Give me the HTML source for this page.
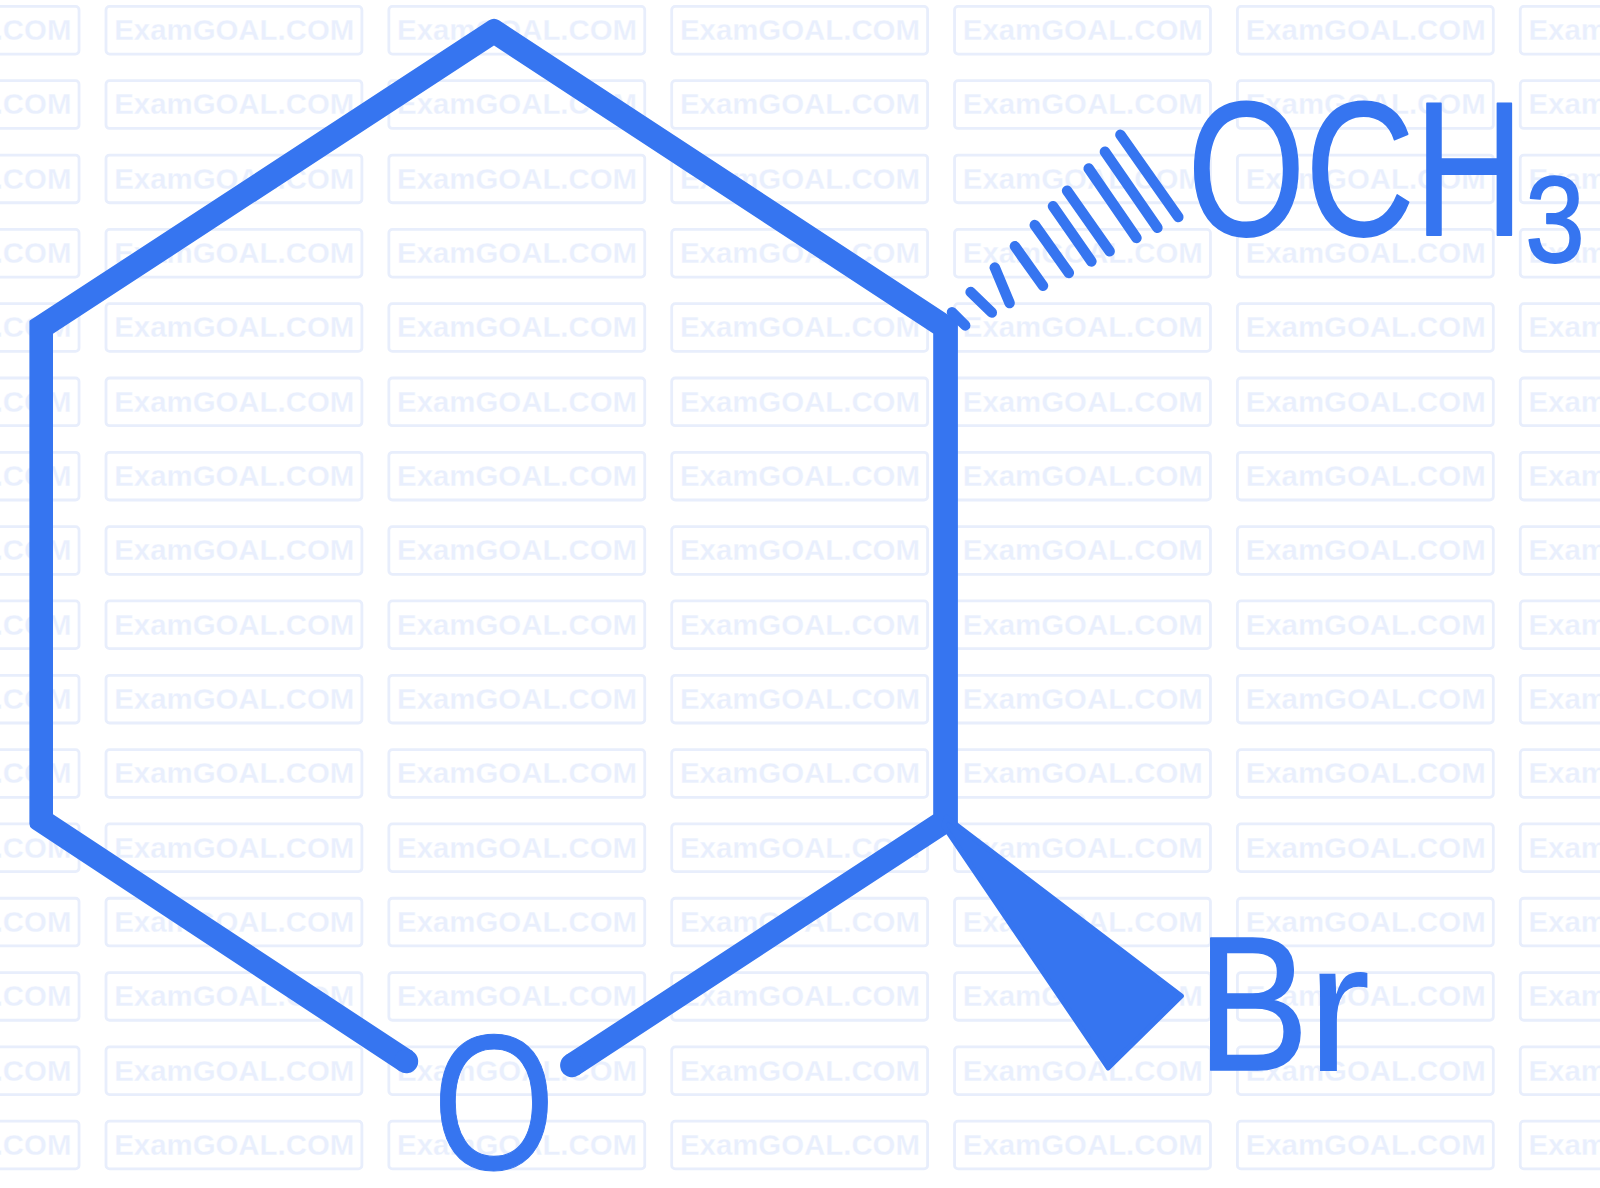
<!DOCTYPE html>
<html lang="en"><head><meta charset="utf-8"><title>Structure</title>
<style>
html,body{margin:0;padding:0;background:#fff;}
body{width:1600px;height:1188px;overflow:hidden;}
svg{display:block;}
.wm rect{fill:none;stroke:#e8eefc;stroke-width:2.8;}
.wm text{fill:#e9effd;font-family:"Liberation Sans",sans-serif;font-weight:700;font-size:30px;stroke:#fff;stroke-width:0.3px;}
.lbl text{fill:#3675f0;font-family:"Liberation Sans",sans-serif;font-weight:400;}
.lbl .k{stroke:#3675f0;stroke-width:1;vector-effect:non-scaling-stroke;stroke-linejoin:round;}
.lbl .k2{stroke-width:1.6;}
.b{stroke:#3675f0;stroke-linecap:round;fill:none;}
</style></head><body>
<svg xmlns="http://www.w3.org/2000/svg" width="1600" height="1188" viewBox="0 0 1600 1188">
<rect width="1600" height="1188" fill="#fff"/>
<g class="wm">
<rect x="-176.85" y="6.40" width="255.90" height="47.70" rx="3.5"/><text x="-168.60" y="40.10" textLength="240.0" lengthAdjust="spacingAndGlyphs">ExamGOAL.COM</text>
<rect x="106.00" y="6.40" width="255.90" height="47.70" rx="3.5"/><text x="114.25" y="40.10" textLength="240.0" lengthAdjust="spacingAndGlyphs">ExamGOAL.COM</text>
<rect x="388.85" y="6.40" width="255.90" height="47.70" rx="3.5"/><text x="397.10" y="40.10" textLength="240.0" lengthAdjust="spacingAndGlyphs">ExamGOAL.COM</text>
<rect x="671.70" y="6.40" width="255.90" height="47.70" rx="3.5"/><text x="679.95" y="40.10" textLength="240.0" lengthAdjust="spacingAndGlyphs">ExamGOAL.COM</text>
<rect x="954.55" y="6.40" width="255.90" height="47.70" rx="3.5"/><text x="962.80" y="40.10" textLength="240.0" lengthAdjust="spacingAndGlyphs">ExamGOAL.COM</text>
<rect x="1237.40" y="6.40" width="255.90" height="47.70" rx="3.5"/><text x="1245.65" y="40.10" textLength="240.0" lengthAdjust="spacingAndGlyphs">ExamGOAL.COM</text>
<rect x="1520.25" y="6.40" width="255.90" height="47.70" rx="3.5"/><text x="1528.50" y="40.10" textLength="240.0" lengthAdjust="spacingAndGlyphs">ExamGOAL.COM</text>
<rect x="-176.85" y="80.72" width="255.90" height="47.70" rx="3.5"/><text x="-168.60" y="114.42" textLength="240.0" lengthAdjust="spacingAndGlyphs">ExamGOAL.COM</text>
<rect x="106.00" y="80.72" width="255.90" height="47.70" rx="3.5"/><text x="114.25" y="114.42" textLength="240.0" lengthAdjust="spacingAndGlyphs">ExamGOAL.COM</text>
<rect x="388.85" y="80.72" width="255.90" height="47.70" rx="3.5"/><text x="397.10" y="114.42" textLength="240.0" lengthAdjust="spacingAndGlyphs">ExamGOAL.COM</text>
<rect x="671.70" y="80.72" width="255.90" height="47.70" rx="3.5"/><text x="679.95" y="114.42" textLength="240.0" lengthAdjust="spacingAndGlyphs">ExamGOAL.COM</text>
<rect x="954.55" y="80.72" width="255.90" height="47.70" rx="3.5"/><text x="962.80" y="114.42" textLength="240.0" lengthAdjust="spacingAndGlyphs">ExamGOAL.COM</text>
<rect x="1237.40" y="80.72" width="255.90" height="47.70" rx="3.5"/><text x="1245.65" y="114.42" textLength="240.0" lengthAdjust="spacingAndGlyphs">ExamGOAL.COM</text>
<rect x="1520.25" y="80.72" width="255.90" height="47.70" rx="3.5"/><text x="1528.50" y="114.42" textLength="240.0" lengthAdjust="spacingAndGlyphs">ExamGOAL.COM</text>
<rect x="-176.85" y="155.04" width="255.90" height="47.70" rx="3.5"/><text x="-168.60" y="188.74" textLength="240.0" lengthAdjust="spacingAndGlyphs">ExamGOAL.COM</text>
<rect x="106.00" y="155.04" width="255.90" height="47.70" rx="3.5"/><text x="114.25" y="188.74" textLength="240.0" lengthAdjust="spacingAndGlyphs">ExamGOAL.COM</text>
<rect x="388.85" y="155.04" width="255.90" height="47.70" rx="3.5"/><text x="397.10" y="188.74" textLength="240.0" lengthAdjust="spacingAndGlyphs">ExamGOAL.COM</text>
<rect x="671.70" y="155.04" width="255.90" height="47.70" rx="3.5"/><text x="679.95" y="188.74" textLength="240.0" lengthAdjust="spacingAndGlyphs">ExamGOAL.COM</text>
<rect x="954.55" y="155.04" width="255.90" height="47.70" rx="3.5"/><text x="962.80" y="188.74" textLength="240.0" lengthAdjust="spacingAndGlyphs">ExamGOAL.COM</text>
<rect x="1237.40" y="155.04" width="255.90" height="47.70" rx="3.5"/><text x="1245.65" y="188.74" textLength="240.0" lengthAdjust="spacingAndGlyphs">ExamGOAL.COM</text>
<rect x="1520.25" y="155.04" width="255.90" height="47.70" rx="3.5"/><text x="1528.50" y="188.74" textLength="240.0" lengthAdjust="spacingAndGlyphs">ExamGOAL.COM</text>
<rect x="-176.85" y="229.36" width="255.90" height="47.70" rx="3.5"/><text x="-168.60" y="263.06" textLength="240.0" lengthAdjust="spacingAndGlyphs">ExamGOAL.COM</text>
<rect x="106.00" y="229.36" width="255.90" height="47.70" rx="3.5"/><text x="114.25" y="263.06" textLength="240.0" lengthAdjust="spacingAndGlyphs">ExamGOAL.COM</text>
<rect x="388.85" y="229.36" width="255.90" height="47.70" rx="3.5"/><text x="397.10" y="263.06" textLength="240.0" lengthAdjust="spacingAndGlyphs">ExamGOAL.COM</text>
<rect x="671.70" y="229.36" width="255.90" height="47.70" rx="3.5"/><text x="679.95" y="263.06" textLength="240.0" lengthAdjust="spacingAndGlyphs">ExamGOAL.COM</text>
<rect x="954.55" y="229.36" width="255.90" height="47.70" rx="3.5"/><text x="962.80" y="263.06" textLength="240.0" lengthAdjust="spacingAndGlyphs">ExamGOAL.COM</text>
<rect x="1237.40" y="229.36" width="255.90" height="47.70" rx="3.5"/><text x="1245.65" y="263.06" textLength="240.0" lengthAdjust="spacingAndGlyphs">ExamGOAL.COM</text>
<rect x="1520.25" y="229.36" width="255.90" height="47.70" rx="3.5"/><text x="1528.50" y="263.06" textLength="240.0" lengthAdjust="spacingAndGlyphs">ExamGOAL.COM</text>
<rect x="-176.85" y="303.68" width="255.90" height="47.70" rx="3.5"/><text x="-168.60" y="337.38" textLength="240.0" lengthAdjust="spacingAndGlyphs">ExamGOAL.COM</text>
<rect x="106.00" y="303.68" width="255.90" height="47.70" rx="3.5"/><text x="114.25" y="337.38" textLength="240.0" lengthAdjust="spacingAndGlyphs">ExamGOAL.COM</text>
<rect x="388.85" y="303.68" width="255.90" height="47.70" rx="3.5"/><text x="397.10" y="337.38" textLength="240.0" lengthAdjust="spacingAndGlyphs">ExamGOAL.COM</text>
<rect x="671.70" y="303.68" width="255.90" height="47.70" rx="3.5"/><text x="679.95" y="337.38" textLength="240.0" lengthAdjust="spacingAndGlyphs">ExamGOAL.COM</text>
<rect x="954.55" y="303.68" width="255.90" height="47.70" rx="3.5"/><text x="962.80" y="337.38" textLength="240.0" lengthAdjust="spacingAndGlyphs">ExamGOAL.COM</text>
<rect x="1237.40" y="303.68" width="255.90" height="47.70" rx="3.5"/><text x="1245.65" y="337.38" textLength="240.0" lengthAdjust="spacingAndGlyphs">ExamGOAL.COM</text>
<rect x="1520.25" y="303.68" width="255.90" height="47.70" rx="3.5"/><text x="1528.50" y="337.38" textLength="240.0" lengthAdjust="spacingAndGlyphs">ExamGOAL.COM</text>
<rect x="-176.85" y="378.00" width="255.90" height="47.70" rx="3.5"/><text x="-168.60" y="411.70" textLength="240.0" lengthAdjust="spacingAndGlyphs">ExamGOAL.COM</text>
<rect x="106.00" y="378.00" width="255.90" height="47.70" rx="3.5"/><text x="114.25" y="411.70" textLength="240.0" lengthAdjust="spacingAndGlyphs">ExamGOAL.COM</text>
<rect x="388.85" y="378.00" width="255.90" height="47.70" rx="3.5"/><text x="397.10" y="411.70" textLength="240.0" lengthAdjust="spacingAndGlyphs">ExamGOAL.COM</text>
<rect x="671.70" y="378.00" width="255.90" height="47.70" rx="3.5"/><text x="679.95" y="411.70" textLength="240.0" lengthAdjust="spacingAndGlyphs">ExamGOAL.COM</text>
<rect x="954.55" y="378.00" width="255.90" height="47.70" rx="3.5"/><text x="962.80" y="411.70" textLength="240.0" lengthAdjust="spacingAndGlyphs">ExamGOAL.COM</text>
<rect x="1237.40" y="378.00" width="255.90" height="47.70" rx="3.5"/><text x="1245.65" y="411.70" textLength="240.0" lengthAdjust="spacingAndGlyphs">ExamGOAL.COM</text>
<rect x="1520.25" y="378.00" width="255.90" height="47.70" rx="3.5"/><text x="1528.50" y="411.70" textLength="240.0" lengthAdjust="spacingAndGlyphs">ExamGOAL.COM</text>
<rect x="-176.85" y="452.32" width="255.90" height="47.70" rx="3.5"/><text x="-168.60" y="486.02" textLength="240.0" lengthAdjust="spacingAndGlyphs">ExamGOAL.COM</text>
<rect x="106.00" y="452.32" width="255.90" height="47.70" rx="3.5"/><text x="114.25" y="486.02" textLength="240.0" lengthAdjust="spacingAndGlyphs">ExamGOAL.COM</text>
<rect x="388.85" y="452.32" width="255.90" height="47.70" rx="3.5"/><text x="397.10" y="486.02" textLength="240.0" lengthAdjust="spacingAndGlyphs">ExamGOAL.COM</text>
<rect x="671.70" y="452.32" width="255.90" height="47.70" rx="3.5"/><text x="679.95" y="486.02" textLength="240.0" lengthAdjust="spacingAndGlyphs">ExamGOAL.COM</text>
<rect x="954.55" y="452.32" width="255.90" height="47.70" rx="3.5"/><text x="962.80" y="486.02" textLength="240.0" lengthAdjust="spacingAndGlyphs">ExamGOAL.COM</text>
<rect x="1237.40" y="452.32" width="255.90" height="47.70" rx="3.5"/><text x="1245.65" y="486.02" textLength="240.0" lengthAdjust="spacingAndGlyphs">ExamGOAL.COM</text>
<rect x="1520.25" y="452.32" width="255.90" height="47.70" rx="3.5"/><text x="1528.50" y="486.02" textLength="240.0" lengthAdjust="spacingAndGlyphs">ExamGOAL.COM</text>
<rect x="-176.85" y="526.64" width="255.90" height="47.70" rx="3.5"/><text x="-168.60" y="560.34" textLength="240.0" lengthAdjust="spacingAndGlyphs">ExamGOAL.COM</text>
<rect x="106.00" y="526.64" width="255.90" height="47.70" rx="3.5"/><text x="114.25" y="560.34" textLength="240.0" lengthAdjust="spacingAndGlyphs">ExamGOAL.COM</text>
<rect x="388.85" y="526.64" width="255.90" height="47.70" rx="3.5"/><text x="397.10" y="560.34" textLength="240.0" lengthAdjust="spacingAndGlyphs">ExamGOAL.COM</text>
<rect x="671.70" y="526.64" width="255.90" height="47.70" rx="3.5"/><text x="679.95" y="560.34" textLength="240.0" lengthAdjust="spacingAndGlyphs">ExamGOAL.COM</text>
<rect x="954.55" y="526.64" width="255.90" height="47.70" rx="3.5"/><text x="962.80" y="560.34" textLength="240.0" lengthAdjust="spacingAndGlyphs">ExamGOAL.COM</text>
<rect x="1237.40" y="526.64" width="255.90" height="47.70" rx="3.5"/><text x="1245.65" y="560.34" textLength="240.0" lengthAdjust="spacingAndGlyphs">ExamGOAL.COM</text>
<rect x="1520.25" y="526.64" width="255.90" height="47.70" rx="3.5"/><text x="1528.50" y="560.34" textLength="240.0" lengthAdjust="spacingAndGlyphs">ExamGOAL.COM</text>
<rect x="-176.85" y="600.96" width="255.90" height="47.70" rx="3.5"/><text x="-168.60" y="634.66" textLength="240.0" lengthAdjust="spacingAndGlyphs">ExamGOAL.COM</text>
<rect x="106.00" y="600.96" width="255.90" height="47.70" rx="3.5"/><text x="114.25" y="634.66" textLength="240.0" lengthAdjust="spacingAndGlyphs">ExamGOAL.COM</text>
<rect x="388.85" y="600.96" width="255.90" height="47.70" rx="3.5"/><text x="397.10" y="634.66" textLength="240.0" lengthAdjust="spacingAndGlyphs">ExamGOAL.COM</text>
<rect x="671.70" y="600.96" width="255.90" height="47.70" rx="3.5"/><text x="679.95" y="634.66" textLength="240.0" lengthAdjust="spacingAndGlyphs">ExamGOAL.COM</text>
<rect x="954.55" y="600.96" width="255.90" height="47.70" rx="3.5"/><text x="962.80" y="634.66" textLength="240.0" lengthAdjust="spacingAndGlyphs">ExamGOAL.COM</text>
<rect x="1237.40" y="600.96" width="255.90" height="47.70" rx="3.5"/><text x="1245.65" y="634.66" textLength="240.0" lengthAdjust="spacingAndGlyphs">ExamGOAL.COM</text>
<rect x="1520.25" y="600.96" width="255.90" height="47.70" rx="3.5"/><text x="1528.50" y="634.66" textLength="240.0" lengthAdjust="spacingAndGlyphs">ExamGOAL.COM</text>
<rect x="-176.85" y="675.28" width="255.90" height="47.70" rx="3.5"/><text x="-168.60" y="708.98" textLength="240.0" lengthAdjust="spacingAndGlyphs">ExamGOAL.COM</text>
<rect x="106.00" y="675.28" width="255.90" height="47.70" rx="3.5"/><text x="114.25" y="708.98" textLength="240.0" lengthAdjust="spacingAndGlyphs">ExamGOAL.COM</text>
<rect x="388.85" y="675.28" width="255.90" height="47.70" rx="3.5"/><text x="397.10" y="708.98" textLength="240.0" lengthAdjust="spacingAndGlyphs">ExamGOAL.COM</text>
<rect x="671.70" y="675.28" width="255.90" height="47.70" rx="3.5"/><text x="679.95" y="708.98" textLength="240.0" lengthAdjust="spacingAndGlyphs">ExamGOAL.COM</text>
<rect x="954.55" y="675.28" width="255.90" height="47.70" rx="3.5"/><text x="962.80" y="708.98" textLength="240.0" lengthAdjust="spacingAndGlyphs">ExamGOAL.COM</text>
<rect x="1237.40" y="675.28" width="255.90" height="47.70" rx="3.5"/><text x="1245.65" y="708.98" textLength="240.0" lengthAdjust="spacingAndGlyphs">ExamGOAL.COM</text>
<rect x="1520.25" y="675.28" width="255.90" height="47.70" rx="3.5"/><text x="1528.50" y="708.98" textLength="240.0" lengthAdjust="spacingAndGlyphs">ExamGOAL.COM</text>
<rect x="-176.85" y="749.60" width="255.90" height="47.70" rx="3.5"/><text x="-168.60" y="783.30" textLength="240.0" lengthAdjust="spacingAndGlyphs">ExamGOAL.COM</text>
<rect x="106.00" y="749.60" width="255.90" height="47.70" rx="3.5"/><text x="114.25" y="783.30" textLength="240.0" lengthAdjust="spacingAndGlyphs">ExamGOAL.COM</text>
<rect x="388.85" y="749.60" width="255.90" height="47.70" rx="3.5"/><text x="397.10" y="783.30" textLength="240.0" lengthAdjust="spacingAndGlyphs">ExamGOAL.COM</text>
<rect x="671.70" y="749.60" width="255.90" height="47.70" rx="3.5"/><text x="679.95" y="783.30" textLength="240.0" lengthAdjust="spacingAndGlyphs">ExamGOAL.COM</text>
<rect x="954.55" y="749.60" width="255.90" height="47.70" rx="3.5"/><text x="962.80" y="783.30" textLength="240.0" lengthAdjust="spacingAndGlyphs">ExamGOAL.COM</text>
<rect x="1237.40" y="749.60" width="255.90" height="47.70" rx="3.5"/><text x="1245.65" y="783.30" textLength="240.0" lengthAdjust="spacingAndGlyphs">ExamGOAL.COM</text>
<rect x="1520.25" y="749.60" width="255.90" height="47.70" rx="3.5"/><text x="1528.50" y="783.30" textLength="240.0" lengthAdjust="spacingAndGlyphs">ExamGOAL.COM</text>
<rect x="-176.85" y="823.92" width="255.90" height="47.70" rx="3.5"/><text x="-168.60" y="857.62" textLength="240.0" lengthAdjust="spacingAndGlyphs">ExamGOAL.COM</text>
<rect x="106.00" y="823.92" width="255.90" height="47.70" rx="3.5"/><text x="114.25" y="857.62" textLength="240.0" lengthAdjust="spacingAndGlyphs">ExamGOAL.COM</text>
<rect x="388.85" y="823.92" width="255.90" height="47.70" rx="3.5"/><text x="397.10" y="857.62" textLength="240.0" lengthAdjust="spacingAndGlyphs">ExamGOAL.COM</text>
<rect x="671.70" y="823.92" width="255.90" height="47.70" rx="3.5"/><text x="679.95" y="857.62" textLength="240.0" lengthAdjust="spacingAndGlyphs">ExamGOAL.COM</text>
<rect x="954.55" y="823.92" width="255.90" height="47.70" rx="3.5"/><text x="962.80" y="857.62" textLength="240.0" lengthAdjust="spacingAndGlyphs">ExamGOAL.COM</text>
<rect x="1237.40" y="823.92" width="255.90" height="47.70" rx="3.5"/><text x="1245.65" y="857.62" textLength="240.0" lengthAdjust="spacingAndGlyphs">ExamGOAL.COM</text>
<rect x="1520.25" y="823.92" width="255.90" height="47.70" rx="3.5"/><text x="1528.50" y="857.62" textLength="240.0" lengthAdjust="spacingAndGlyphs">ExamGOAL.COM</text>
<rect x="-176.85" y="898.24" width="255.90" height="47.70" rx="3.5"/><text x="-168.60" y="931.94" textLength="240.0" lengthAdjust="spacingAndGlyphs">ExamGOAL.COM</text>
<rect x="106.00" y="898.24" width="255.90" height="47.70" rx="3.5"/><text x="114.25" y="931.94" textLength="240.0" lengthAdjust="spacingAndGlyphs">ExamGOAL.COM</text>
<rect x="388.85" y="898.24" width="255.90" height="47.70" rx="3.5"/><text x="397.10" y="931.94" textLength="240.0" lengthAdjust="spacingAndGlyphs">ExamGOAL.COM</text>
<rect x="671.70" y="898.24" width="255.90" height="47.70" rx="3.5"/><text x="679.95" y="931.94" textLength="240.0" lengthAdjust="spacingAndGlyphs">ExamGOAL.COM</text>
<rect x="954.55" y="898.24" width="255.90" height="47.70" rx="3.5"/><text x="962.80" y="931.94" textLength="240.0" lengthAdjust="spacingAndGlyphs">ExamGOAL.COM</text>
<rect x="1237.40" y="898.24" width="255.90" height="47.70" rx="3.5"/><text x="1245.65" y="931.94" textLength="240.0" lengthAdjust="spacingAndGlyphs">ExamGOAL.COM</text>
<rect x="1520.25" y="898.24" width="255.90" height="47.70" rx="3.5"/><text x="1528.50" y="931.94" textLength="240.0" lengthAdjust="spacingAndGlyphs">ExamGOAL.COM</text>
<rect x="-176.85" y="972.56" width="255.90" height="47.70" rx="3.5"/><text x="-168.60" y="1006.26" textLength="240.0" lengthAdjust="spacingAndGlyphs">ExamGOAL.COM</text>
<rect x="106.00" y="972.56" width="255.90" height="47.70" rx="3.5"/><text x="114.25" y="1006.26" textLength="240.0" lengthAdjust="spacingAndGlyphs">ExamGOAL.COM</text>
<rect x="388.85" y="972.56" width="255.90" height="47.70" rx="3.5"/><text x="397.10" y="1006.26" textLength="240.0" lengthAdjust="spacingAndGlyphs">ExamGOAL.COM</text>
<rect x="671.70" y="972.56" width="255.90" height="47.70" rx="3.5"/><text x="679.95" y="1006.26" textLength="240.0" lengthAdjust="spacingAndGlyphs">ExamGOAL.COM</text>
<rect x="954.55" y="972.56" width="255.90" height="47.70" rx="3.5"/><text x="962.80" y="1006.26" textLength="240.0" lengthAdjust="spacingAndGlyphs">ExamGOAL.COM</text>
<rect x="1237.40" y="972.56" width="255.90" height="47.70" rx="3.5"/><text x="1245.65" y="1006.26" textLength="240.0" lengthAdjust="spacingAndGlyphs">ExamGOAL.COM</text>
<rect x="1520.25" y="972.56" width="255.90" height="47.70" rx="3.5"/><text x="1528.50" y="1006.26" textLength="240.0" lengthAdjust="spacingAndGlyphs">ExamGOAL.COM</text>
<rect x="-176.85" y="1046.88" width="255.90" height="47.70" rx="3.5"/><text x="-168.60" y="1080.58" textLength="240.0" lengthAdjust="spacingAndGlyphs">ExamGOAL.COM</text>
<rect x="106.00" y="1046.88" width="255.90" height="47.70" rx="3.5"/><text x="114.25" y="1080.58" textLength="240.0" lengthAdjust="spacingAndGlyphs">ExamGOAL.COM</text>
<rect x="388.85" y="1046.88" width="255.90" height="47.70" rx="3.5"/><text x="397.10" y="1080.58" textLength="240.0" lengthAdjust="spacingAndGlyphs">ExamGOAL.COM</text>
<rect x="671.70" y="1046.88" width="255.90" height="47.70" rx="3.5"/><text x="679.95" y="1080.58" textLength="240.0" lengthAdjust="spacingAndGlyphs">ExamGOAL.COM</text>
<rect x="954.55" y="1046.88" width="255.90" height="47.70" rx="3.5"/><text x="962.80" y="1080.58" textLength="240.0" lengthAdjust="spacingAndGlyphs">ExamGOAL.COM</text>
<rect x="1237.40" y="1046.88" width="255.90" height="47.70" rx="3.5"/><text x="1245.65" y="1080.58" textLength="240.0" lengthAdjust="spacingAndGlyphs">ExamGOAL.COM</text>
<rect x="1520.25" y="1046.88" width="255.90" height="47.70" rx="3.5"/><text x="1528.50" y="1080.58" textLength="240.0" lengthAdjust="spacingAndGlyphs">ExamGOAL.COM</text>
<rect x="-176.85" y="1121.20" width="255.90" height="47.70" rx="3.5"/><text x="-168.60" y="1154.90" textLength="240.0" lengthAdjust="spacingAndGlyphs">ExamGOAL.COM</text>
<rect x="106.00" y="1121.20" width="255.90" height="47.70" rx="3.5"/><text x="114.25" y="1154.90" textLength="240.0" lengthAdjust="spacingAndGlyphs">ExamGOAL.COM</text>
<rect x="388.85" y="1121.20" width="255.90" height="47.70" rx="3.5"/><text x="397.10" y="1154.90" textLength="240.0" lengthAdjust="spacingAndGlyphs">ExamGOAL.COM</text>
<rect x="671.70" y="1121.20" width="255.90" height="47.70" rx="3.5"/><text x="679.95" y="1154.90" textLength="240.0" lengthAdjust="spacingAndGlyphs">ExamGOAL.COM</text>
<rect x="954.55" y="1121.20" width="255.90" height="47.70" rx="3.5"/><text x="962.80" y="1154.90" textLength="240.0" lengthAdjust="spacingAndGlyphs">ExamGOAL.COM</text>
<rect x="1237.40" y="1121.20" width="255.90" height="47.70" rx="3.5"/><text x="1245.65" y="1154.90" textLength="240.0" lengthAdjust="spacingAndGlyphs">ExamGOAL.COM</text>
<rect x="1520.25" y="1121.20" width="255.90" height="47.70" rx="3.5"/><text x="1528.50" y="1154.90" textLength="240.0" lengthAdjust="spacingAndGlyphs">ExamGOAL.COM</text>
</g>
<g>
<path d="M412.85 1051.36 L53.00 814.13 L53.00 333.80 L493.99 45.52 L933.20 333.43 L933.20 814.46 L565.48 1055.35 L578.52 1075.25 L957.22 827.18 A1.5 1.5 0 0 0 957.90 825.93 L957.90 321.98 A1.5 1.5 0 0 0 957.22 320.72 L498.94 20.31 A9.0 9.0 0 0 0 489.08 20.30 L30.08 320.35 A1.5 1.5 0 0 0 29.40 321.61 L29.40 823.84 A6.0 6.0 0 0 0 32.10 828.85 L399.75 1071.24Z" fill="#3675f0"/>
<line class="b" x1="406.3" y1="1061.3" x2="405.88" y2="1061.02" stroke-width="23.8"/>
<line class="b" x1="572.0" y1="1065.3" x2="572.42" y2="1065.03" stroke-width="23.8"/>
<line class="b" x1="952" y1="312.2" x2="965.2" y2="325.4" stroke-width="10.5"/>
<line class="b" x1="970.6" y1="292.1" x2="991.8" y2="312.6" stroke-width="10.5"/>
<line class="b" x1="994.8" y1="267.5" x2="1009.6" y2="303.1" stroke-width="10.5"/>
<line class="b" x1="1014.9" y1="246.3" x2="1043" y2="285.7" stroke-width="10.5"/>
<line class="b" x1="1034.8" y1="225.1" x2="1068.8" y2="272.9" stroke-width="10.5"/>
<line class="b" x1="1053" y1="206.2" x2="1091.4" y2="261.4" stroke-width="10.5"/>
<line class="b" x1="1067.1" y1="190.7" x2="1109.6" y2="251.3" stroke-width="10.5"/>
<line class="b" x1="1088.7" y1="168.5" x2="1136.5" y2="237.9" stroke-width="10.5"/>
<line class="b" x1="1104.9" y1="151.7" x2="1157.4" y2="227.8" stroke-width="10.5"/>
<line class="b" x1="1120.4" y1="134.8" x2="1178.3" y2="217" stroke-width="10.5"/>
<polygon points="946.36,817.17 1181.39,996.04 1108.09,1067.92 943.74,825.88" fill="#3675f0" stroke="#3675f0" stroke-width="5.0" stroke-linejoin="round"/>
</g>
<g class="lbl">
<text transform="matrix(1.5129 0 0 1.9181 1187.53 234.83)" font-size="100" class="k k2">OCH<tspan x="223.21" y="13.96" font-size="64.06" textLength="39.31" lengthAdjust="spacingAndGlyphs" stroke-width="1">3</tspan></text>
<text transform="matrix(1.6779 0 0 1.9186 1197.04 1069.70)" font-size="100" class="k k2">B<tspan x="65.40" y="0.42" font-size="95.90" textLength="38.03" lengthAdjust="spacingAndGlyphs" stroke="none">r</tspan></text>
<text transform="matrix(1.5668 0 0 1.9308 432.93 1168.71)" font-size="100" class="k">O</text>
</g>
</svg></body></html>
